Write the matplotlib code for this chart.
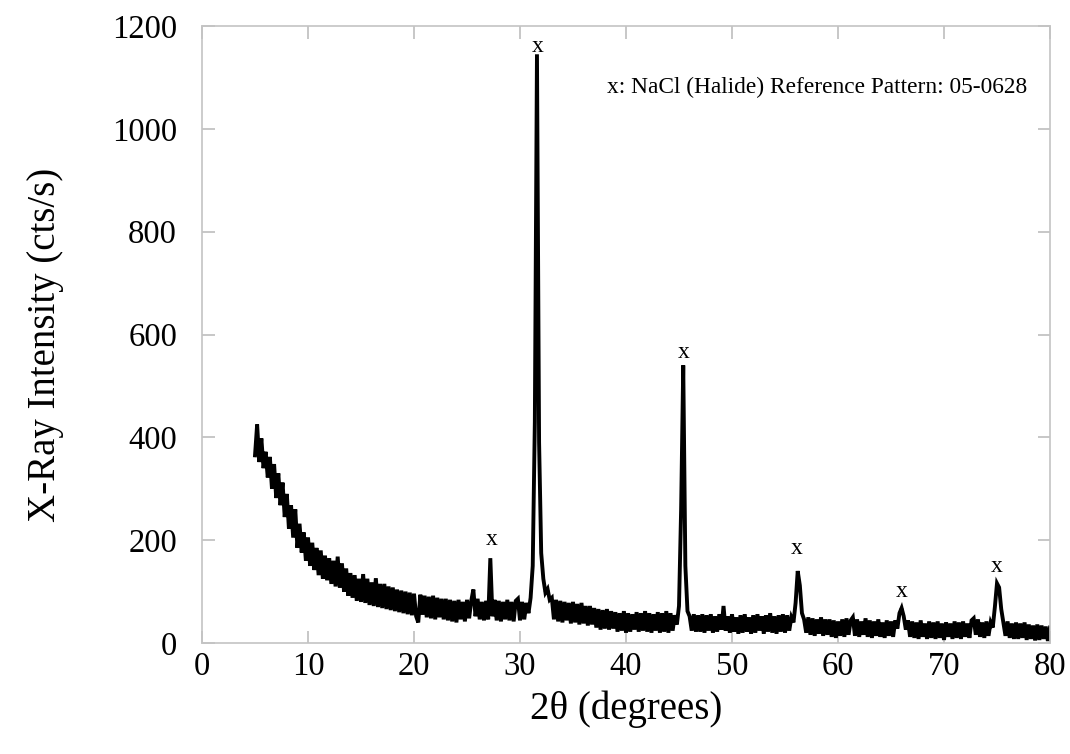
import numpy as np
import matplotlib
matplotlib.use("Agg")
import matplotlib.pyplot as plt

plt.rcParams['font.family'] = ['Liberation Serif', 'DejaVu Serif']
plt.rcParams['mathtext.fontset'] = 'stix'

# 2-theta grid (degrees), 0.2 degree steps from 5 to 80
two_theta = np.round(np.arange(5.0, 80.01, 0.2), 2)

# X-ray intensity (cts/s)
intensity = [
    365, 425, 352, 398, 340, 372, 322, 362, 300, 348,   # 5.0 - 6.8
    282, 330, 268, 312, 245, 290, 222, 268, 205, 260,   # 7.0 - 8.8
    185, 232, 176, 215, 160, 205, 150, 195, 142, 185,   # 9.0 - 10.8
    132, 180, 125, 170, 122, 165, 115, 160, 110, 168,   # 11.0 - 12.8
    108, 155, 100, 145, 92, 136, 88, 132, 82, 125,      # 13.0 - 14.8
    80, 134, 78, 125, 74, 118, 72, 126, 70, 115,        # 15.0 - 16.8
    68, 115, 66, 110, 64, 108, 62, 104, 60, 102,        # 17.0 - 18.8
    58, 100, 56, 98, 54, 96, 52, 40, 94, 55,            # 19.0 - 20.8
    92, 50, 90, 48, 92, 46, 88, 50, 86, 46,             # 21.0 - 22.8
    86, 44, 84, 42, 82, 40, 84, 46, 80, 42,             # 23.0 - 24.8
    84, 48, 82, 104, 52, 86, 46, 80, 44, 82,            # 25.0 - 26.8
    46, 165, 52, 84, 44, 82, 42, 80, 46, 84,            # 27.0 - 28.8
    44, 80, 42, 82, 86, 44, 80, 46, 78, 58,             # 29.0 - 30.8
    88, 150, 430, 1145, 390, 175, 125, 98, 105, 84,     # 31.0 - 32.8
    88, 46, 84, 42, 82, 40, 80, 44, 78, 38,             # 33.0 - 34.8
    80, 40, 76, 36, 78, 38, 72, 34, 72, 36,             # 35.0 - 36.8
    68, 30, 66, 26, 64, 28, 66, 26, 62, 28,             # 37.0 - 38.8
    60, 22, 58, 24, 62, 20, 58, 22, 56, 26,             # 39.0 - 40.8
    60, 22, 58, 24, 62, 22, 58, 20, 56, 24,             # 41.0 - 42.8
    60, 20, 58, 22, 62, 20, 58, 24, 54, 36,             # 43.0 - 44.8
    72, 260, 540, 150, 62, 52, 24, 56, 22, 54,          # 45.0 - 46.8
    22, 56, 20, 54, 24, 56, 20, 52, 22, 56,             # 47.0 - 48.8
    26, 72, 24, 52, 20, 56, 22, 50, 18, 54,             # 49.0 - 50.8
    20, 56, 22, 50, 18, 54, 20, 56, 24, 52,             # 51.0 - 52.8
    18, 54, 22, 58, 20, 52, 18, 54, 22, 56,             # 53.0 - 54.8
    20, 54, 24, 50, 40, 78, 140, 112, 58, 46,           # 55.0 - 56.8
    20, 50, 16, 48, 14, 46, 18, 50, 14, 46,             # 57.0 - 58.8
    16, 46, 12, 44, 10, 42, 14, 46, 12, 48,             # 59.0 - 60.8
    16, 44, 50, 14, 46, 12, 42, 16, 48, 12,             # 61.0 - 62.8
    44, 10, 42, 14, 46, 12, 40, 10, 44, 14,             # 63.0 - 64.8
    42, 12, 44, 28, 58, 68, 52, 26, 44, 12,             # 65.0 - 66.8
    42, 10, 40, 8, 44, 12, 38, 8, 42, 10,               # 67.0 - 68.8
    40, 8, 42, 10, 38, 6, 40, 12, 38, 8,                # 69.0 - 70.8
    42, 10, 40, 8, 42, 12, 38, 10, 44, 48,              # 71.0 - 72.8
    16, 46, 12, 40, 10, 42, 14, 40, 30, 70,             # 73.0 - 74.8
    116, 108, 66, 40, 14, 42, 10, 38, 8, 40,            # 75.0 - 76.8
    8, 38, 10, 40, 6, 36, 8, 34, 5, 36,                 # 77.0 - 78.8
    6, 34, 8, 32, 4, 30,                                # 79.0 - 80.0
]

# NaCl peak markers (2-theta, label height)
peak_marker_pos = [27.3, 31.7, 45.4, 56.1, 66.0, 75.0]
peak_marker_y = [202, 1161, 565, 183, 101, 148]

x_ticks = [0, 10, 20, 30, 40, 50, 60, 70, 80]
y_ticks = [0, 200, 400, 600, 800, 1000, 1200]

legend_text = "x: NaCl (Halide) Reference Pattern: 05-0628"

fig = plt.figure(figsize=(10.7, 7.54), dpi=100)
ax = fig.add_axes([0.1888, 0.1472, 0.9813 - 0.1888, 0.9655 - 0.1472])

ax.plot(two_theta, intensity, color='black', linewidth=2.8, solid_joinstyle='miter')

for xp, yp in zip(peak_marker_pos, peak_marker_y):
    ax.text(xp, yp, 'x', ha='center', va='center', fontsize=17, color='black')

ax.text(77.9, 1080, legend_text, ha='right', va='center', fontsize=16.8, color='black')

ax.set_xlim(0, 80)
ax.set_ylim(0, 1200)
ax.set_xticks(x_ticks)
ax.set_yticks(y_ticks)

for s in ax.spines.values():
    s.set_color('#c4c4c4')
    s.set_linewidth(1.2)

ax.tick_params(axis='both', which='both', direction='in', length=9, width=1.1,
               color='#b8b8b8', labelsize=23.5, top=True, right=True)
ax.tick_params(axis='y', pad=18)
ax.tick_params(axis='x', pad=6)

ax.set_xlabel('2θ (degrees)', fontsize=28, labelpad=6)
ax.set_ylabel('X-Ray Intensity (cts/s)', fontsize=28)
ax.yaxis.set_label_coords(-0.163, 0.483)

fig.savefig('out.png', dpi=100)
